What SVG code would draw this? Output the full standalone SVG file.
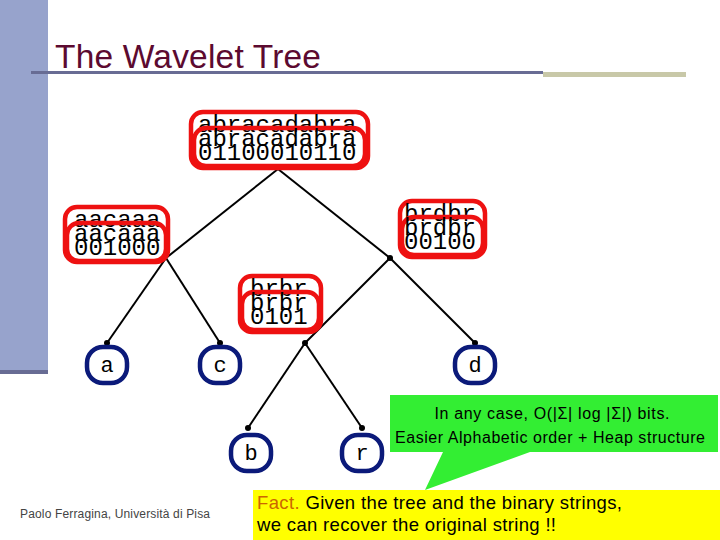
<svg xmlns="http://www.w3.org/2000/svg" width="720" height="540" viewBox="0 0 720 540">
<style>
.outer{fill:#fff;stroke:#EE1111;stroke-width:4.5}
.inner{fill:none;stroke:#EE1111;stroke-width:4.5}
.nt{font-family:"Liberation Mono","Courier New",monospace;font-size:24px;fill:#000}
.leaf{fill:#fff;stroke:#0B1A7A;stroke-width:4.5}
.lt{font-family:"Liberation Mono","Courier New",monospace;font-size:22px;fill:#000;text-anchor:middle}
.edge{stroke:#000;stroke-width:2;fill:none}
.dot{fill:#000}
.ct{font-family:"Liberation Sans",Arial,sans-serif;font-size:16px;fill:#000;text-anchor:middle}
.ft{font-family:"Liberation Sans",Arial,sans-serif;font-size:18.5px;fill:#000}
</style>
<rect x="0" y="0" width="48" height="372" fill="#97A3CC"/>
<rect x="0" y="370" width="48" height="4" fill="#686C94"/>
<rect x="31" y="71" width="512" height="3" fill="#686C94"/>
<rect x="543" y="72" width="143" height="5" fill="#C8C8A8"/>
<text x="55" y="68" font-family="Liberation Sans, Arial, sans-serif" font-size="33.5" fill="#5C0A30" textLength="266">The Wavelet Tree</text>

<g id="connectors">
<line class="edge" x1="278" y1="169" x2="166" y2="258"/>
<line class="edge" x1="278" y1="169" x2="390" y2="258"/>
<line class="edge" x1="166" y1="258" x2="107" y2="343"/>
<line class="edge" x1="166" y1="258" x2="220" y2="343"/>
<line class="edge" x1="390" y1="258" x2="305" y2="343"/>
<line class="edge" x1="390" y1="258" x2="475" y2="343"/>
<line class="edge" x1="305" y1="343" x2="248" y2="428"/>
<line class="edge" x1="305" y1="343" x2="362" y2="428"/>
<circle class="dot" cx="390" cy="258" r="3"/>
<circle class="dot" cx="305" cy="343" r="3"/>
<circle class="dot" cx="107" cy="343" r="3"/>
<circle class="dot" cx="220" cy="343" r="3"/>
<circle class="dot" cx="475" cy="343" r="3"/>
<circle class="dot" cx="248" cy="428" r="3"/>
<circle class="dot" cx="362" cy="428" r="3"/>
</g>

<g id="root">
<rect class="outer" x="191" y="112" width="177" height="56" rx="12"/>
<text class="nt" x="198" y="132">abracadabra</text>
<rect class="inner" x="194" y="128" width="171" height="38" rx="12"/>
<text class="nt" x="198" y="146">abracadabra</text>
<text class="nt" x="198" y="160">01100010110</text>
</g>

<g id="node-left">
<rect class="outer" x="65" y="207" width="103" height="55" rx="12"/>
<text class="nt" x="74" y="227">aacaaa</text>
<rect class="inner" x="67" y="223" width="99" height="38" rx="12"/>
<text class="nt" x="74" y="241">aacaaa</text>
<text class="nt" x="74" y="255">001000</text>
</g>

<g id="node-right">
<rect class="outer" x="400" y="201" width="85" height="56" rx="12"/>
<text class="nt" x="404" y="221">brdbr</text>
<rect class="inner" x="402" y="217" width="81" height="38" rx="12"/>
<text class="nt" x="404" y="235">brdbr</text>
<text class="nt" x="404" y="249">00100</text>
</g>

<g id="node-brbr">
<rect class="outer" x="240" y="276" width="81" height="56" rx="12"/>
<text class="nt" x="250" y="296">brbr</text>
<rect class="inner" x="242" y="292" width="77" height="38" rx="12"/>
<text class="nt" x="250" y="310">brbr</text>
<text class="nt" x="250" y="324">0101</text>
</g>

<g id="leaf-a"><rect class="leaf" x="87" y="347" width="40" height="36" rx="16"/><text class="lt" x="107" y="372">a</text></g>
<g id="leaf-c"><rect class="leaf" x="200" y="347" width="40" height="36" rx="16"/><text class="lt" x="220" y="372">c</text></g>
<g id="leaf-d"><rect class="leaf" x="455" y="347" width="40" height="36" rx="16"/><text class="lt" x="475" y="372">d</text></g>
<g id="leaf-b"><rect class="leaf" x="231" y="435" width="40" height="36" rx="16"/><text class="lt" x="251" y="460">b</text></g>
<g id="leaf-r"><rect class="leaf" x="342" y="435" width="40" height="36" rx="16"/><text class="lt" x="362" y="460">r</text></g>

<g id="callout">
<path d="M390,395 H718 V452 H530 L425,490 L443,452 H390 Z" fill="#33EE33"/>
<text class="ct" x="552" y="419" textLength="235">In any case, O(|Σ| log |Σ|) bits.</text>
<text class="ct" x="550" y="443" textLength="310">Easier Alphabetic order + Heap structure</text>
</g>

<g id="fact">
<rect x="253" y="490" width="467" height="50" fill="#FFFF00"/>
<text class="ft" x="257" y="509" textLength="365"><tspan fill="#CC6600">Fact.</tspan> Given the tree and the binary strings,</text>
<text class="ft" x="257" y="531" textLength="299">we can recover the original string !!</text>
</g>

<text x="20" y="518" font-family="Liberation Sans, Arial, sans-serif" font-size="12" fill="#444" textLength="190">Paolo Ferragina, Università di Pisa</text>
</svg>
